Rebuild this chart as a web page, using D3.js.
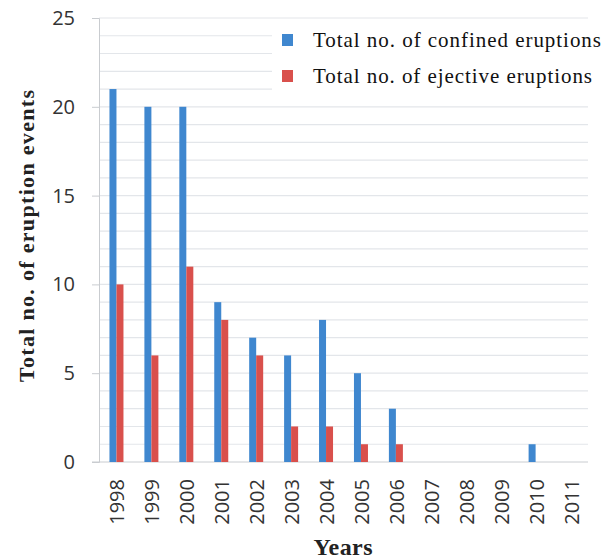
<!DOCTYPE html>
<html>
<head>
<meta charset="utf-8">
<script src="https://cdn.jsdelivr.net/npm/d3@7"></script>
<style>
  body { margin: 0; background: #fff; }
  svg { display: block; }
</style>
</head>
<body>
<script>
var width = 603,
    height = 560;

// donnees
var years = ["1998", "1999", "2000", "2001", "2002", "2003", "2004", "2005", "2006", "2007", "2008", "2009", "2010", "2011"];
var confined = [21, 20, 20, 9, 7, 6, 8, 5, 3, 0, 0, 0, 1, 0];
var ejective = [10, 6, 11, 8, 6, 2, 2, 1, 1, 0, 0, 0, 0, 0];
var seriesNames = ["Total no. of confined eruptions", "Total no. of ejective eruptions"];
var yTicks = [0, 5, 10, 15, 20, 25];

var colors = ["#3f87cf", "#d9504c"];

var margin = { top: 18, right: 15, bottom: 98, left: 99 };
var plotW = width - margin.left - margin.right,
    plotH = height - margin.top - margin.bottom;

var svg = d3.select("body")
    .append("svg")
    .attr("width", width)
    .attr("height", height);

var g = svg.append("g")
    .attr("transform", "translate(" + margin.left + "," + margin.top + ")");

var x = d3.scaleBand().domain(years).range([0, plotW]);
var x1 = d3.scaleBand().domain([0, 1]).range([0, 14]);
var y = d3.scaleLinear().domain([0, 25]).range([plotH, 0]);

// grille secondaire (toutes les unites)
g.append("g")
    .selectAll("line")
    .data(d3.range(1, 26))
    .join("line")
    .attr("x1", 0)
    .attr("x2", plotW)
    .attr("y1", d => y(d))
    .attr("y2", d => y(d))
    .attr("stroke", "#e3e6ea")
    .attr("stroke-width", 1.2);

// fond blanc de la legende (cache la grille)
g.append("rect")
    .attr("x", 173)
    .attr("y", y(24.8))
    .attr("width", plotW - 173 + 4)
    .attr("height", y(20.2) - y(24.8))
    .attr("fill", "#fff");

var tickFont = "'Open Sans', 'DejaVu Sans', sans-serif";

// axe Y
var yAxis = g.append("g")
    .call(d3.axisLeft(y).tickValues(yTicks).tickSize(7).tickPadding(17));
yAxis.select(".domain").attr("stroke", "#c9ccd0");
yAxis.selectAll(".tick line").attr("stroke", "#c9ccd0");
yAxis.selectAll("text")
    .attr("fill", "#333")
    .style("font-family", tickFont)
    .style("font-size", "20px");

// axe X
g.append("line")
    .attr("x1", -7).attr("x2", plotW)
    .attr("y1", plotH).attr("y2", plotH)
    .attr("stroke", "#c9ccd0");

var xAxis = g.append("g")
    .attr("transform", "translate(0," + plotH + ")")
    .call(d3.axisBottom(x).tickSize(0).tickPadding(0));
xAxis.select(".domain").remove();
xAxis.selectAll("text")
    .attr("transform", "rotate(-90)")
    .attr("x", -17)
    .attr("y", 1)
    .attr("dy", "0.35em")
    .attr("text-anchor", "end")
    .attr("fill", "#333")
    .style("font-family", tickFont)
    .style("font-size", "20px");

// barres
var groups = g.selectAll(".year")
    .data(years)
    .join("g")
    .attr("class", "year")
    .attr("transform", d => "translate(" + (x(d) + x.bandwidth() / 2 - 7) + ",0)");

groups.selectAll("rect")
    .data((d, i) => [confined[i], ejective[i]])
    .join("rect")
    .attr("x", (d, i) => x1(i))
    .attr("width", x1.bandwidth())
    .attr("y", d => y(d))
    .attr("height", d => plotH - y(d))
    .attr("fill", (d, i) => colors[i]);

// legende
var serif = "'Liberation Serif', 'Times New Roman', serif";
var legend = g.append("g").attr("transform", "translate(183,0)");
var legendW = [288, 279];
seriesNames.forEach(function (name, i) {
    var ly = 22 + i * 36;
    legend.append("rect")
        .attr("x", 0)
        .attr("y", ly - 6)
        .attr("width", 11)
        .attr("height", 12)
        .attr("fill", colors[i]);
    legend.append("text")
        .attr("x", 31)
        .attr("y", ly + 7)
        .attr("fill", "#111")
        .attr("textLength", legendW[i])
        .attr("lengthAdjust", "spacing")
        .style("font-family", serif)
        .style("font-size", "21px")
        .text(name);
});

// titres des axes
svg.append("text")
    .attr("transform", "translate(34,236) rotate(-90)")
    .attr("text-anchor", "middle")
    .attr("textLength", 292)
    .attr("lengthAdjust", "spacing")
    .style("font-family", serif)
    .style("font-weight", "bold")
    .style("font-size", "22px")
    .attr("fill", "#222")
    .text("Total no. of eruption events");

svg.append("text")
    .attr("x", 343)
    .attr("y", 555)
    .attr("text-anchor", "middle")
    .attr("textLength", 59)
    .attr("lengthAdjust", "spacing")
    .style("font-family", serif)
    .style("font-weight", "bold")
    .style("font-size", "24px")
    .attr("fill", "#222")
    .text("Years");
</script>
</body>
</html>
